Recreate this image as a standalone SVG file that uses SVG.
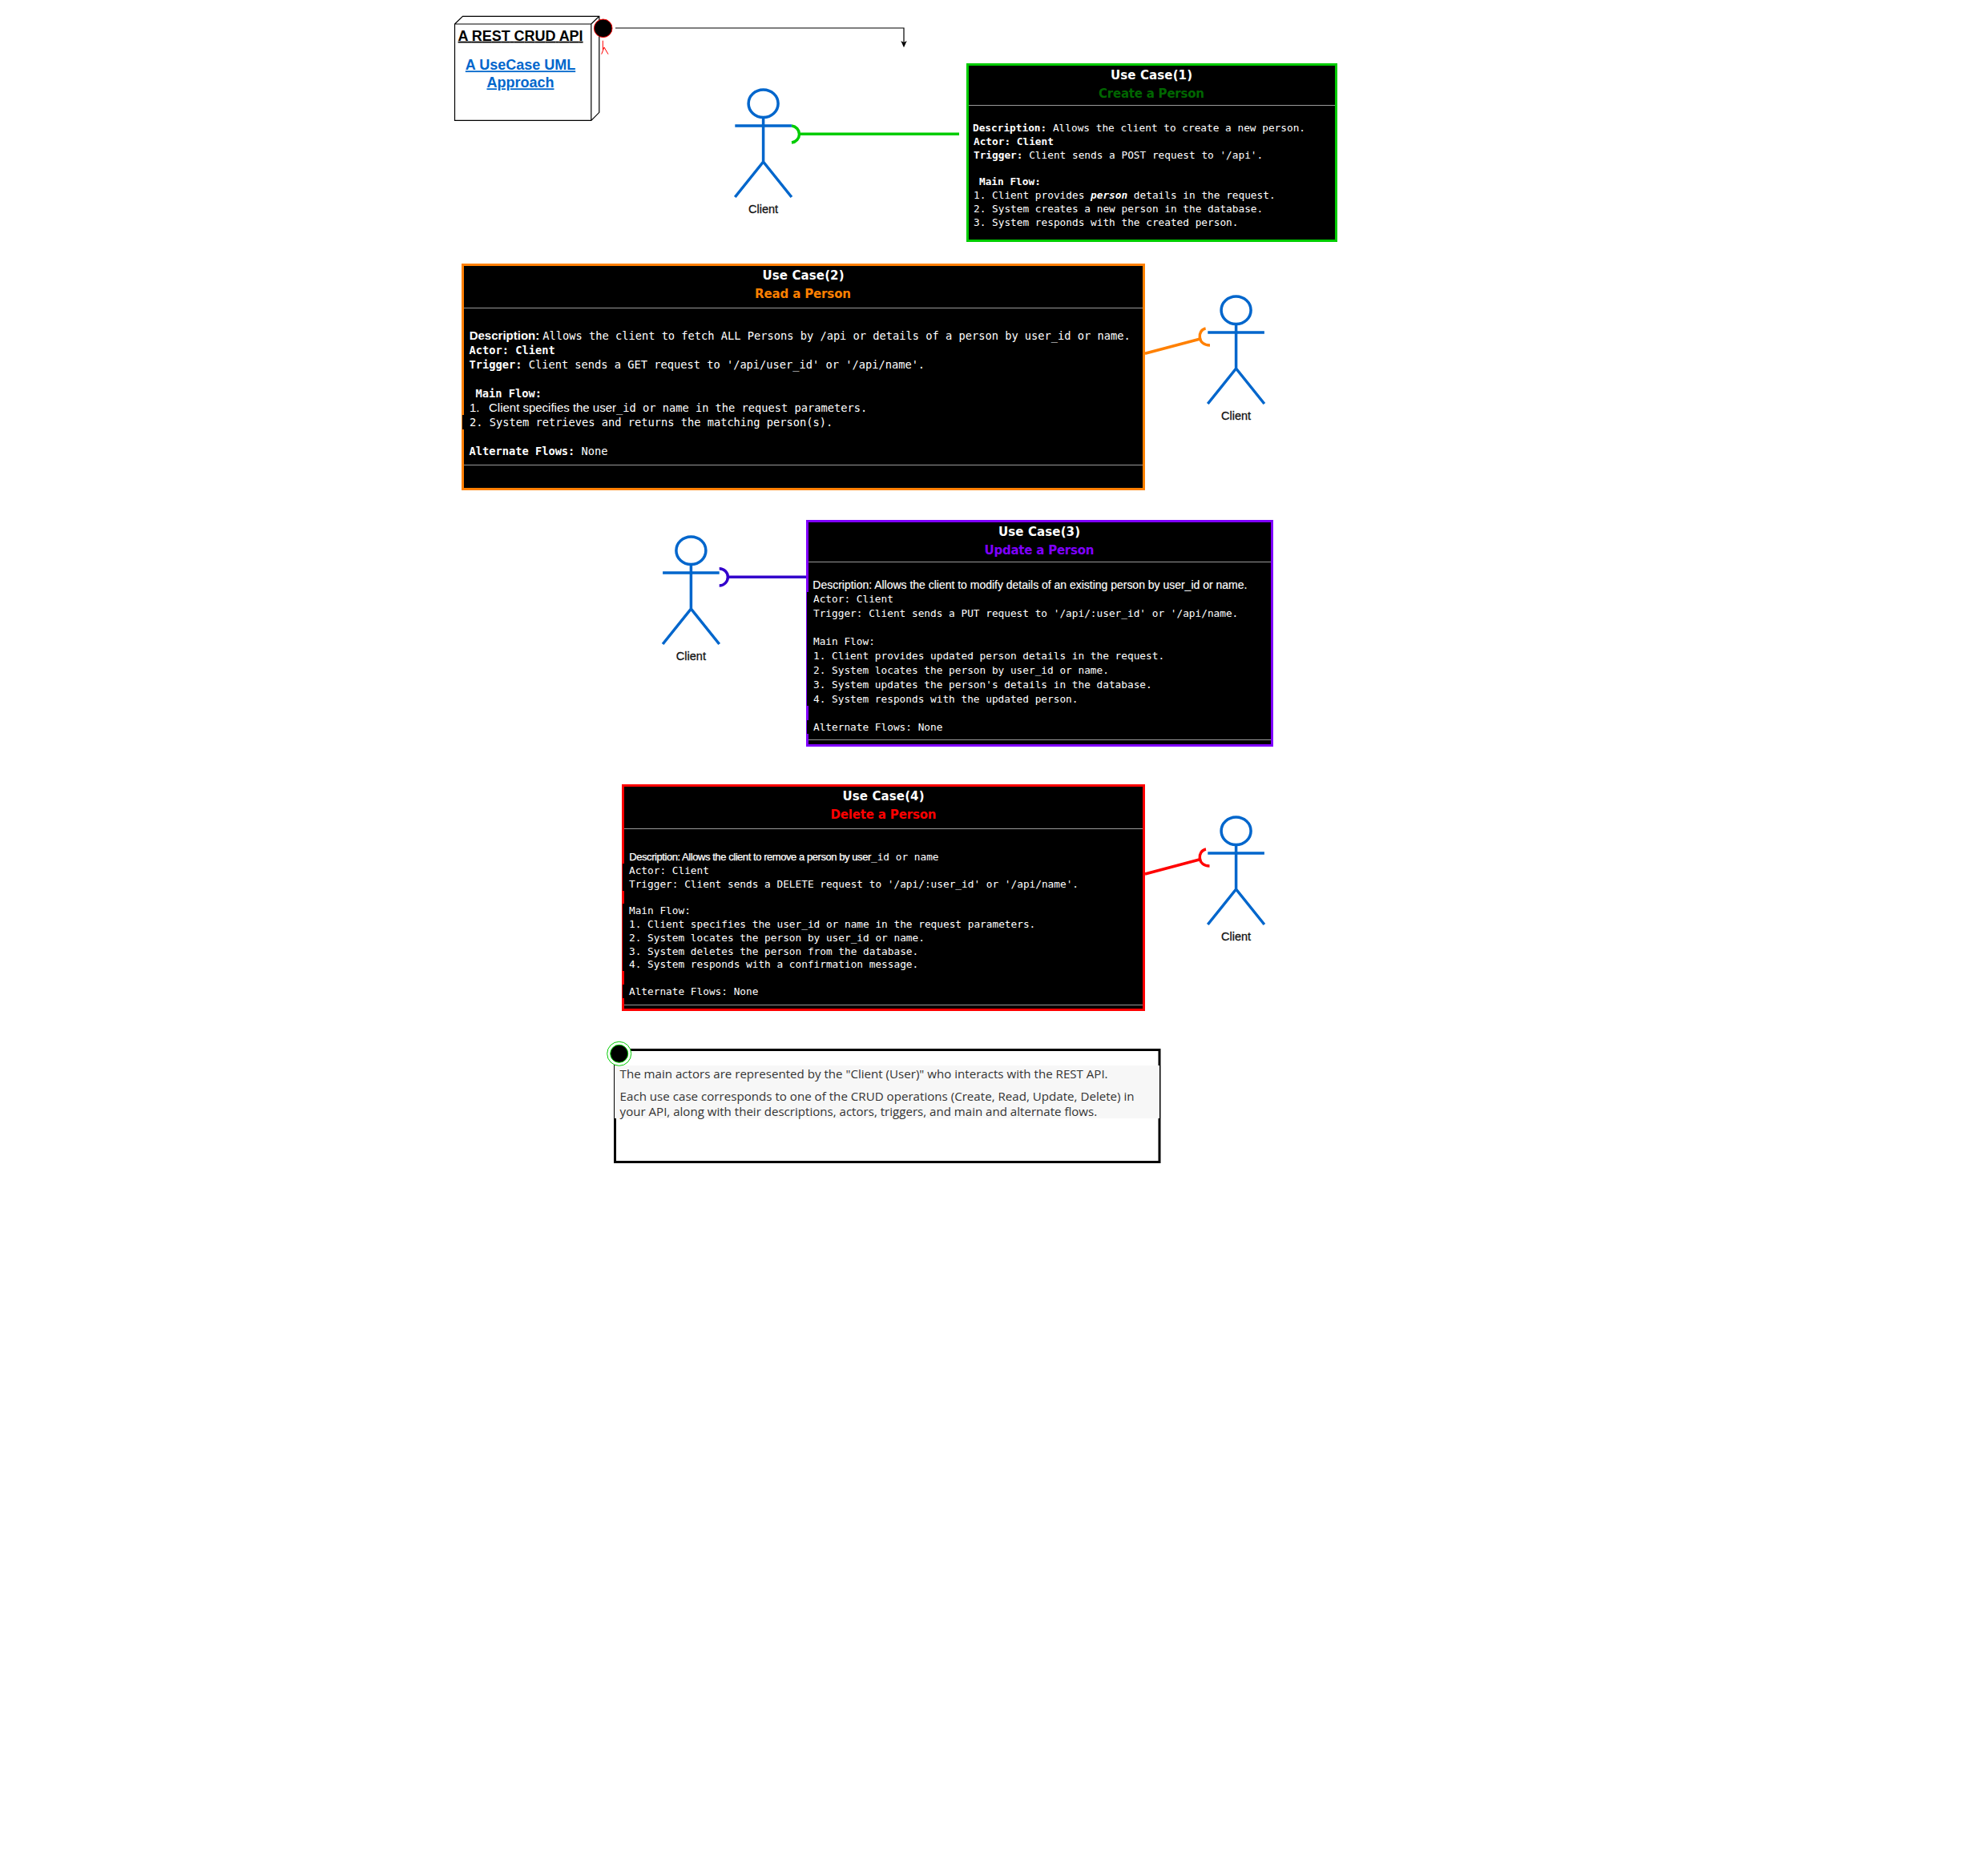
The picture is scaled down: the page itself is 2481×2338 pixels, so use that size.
<svg xmlns="http://www.w3.org/2000/svg" width="2481" height="2338" viewBox="0 0 2481 2338">
<style>
text{white-space:pre}
.bg{fill:#fff}
.card{fill:#000;stroke-width:3}
.sep{stroke:#999;stroke-width:1;fill:none}
.title{font-family:"DejaVu Sans",sans-serif;font-weight:700;font-size:15px;text-anchor:middle;fill:#fff}
.sub{font-family:"DejaVu Sans",sans-serif;font-weight:700;font-size:15px;text-anchor:middle}
.m{font-family:"DejaVu Sans Mono",monospace;font-size:12.78px;fill:#fff}
.ml{font-family:"DejaVu Sans Mono",monospace;font-size:13.7px;fill:#fff}
.a{font-family:"Liberation Sans",Arial,sans-serif}
.b{font-weight:700}
.lbl{font-family:"Liberation Sans",Arial,sans-serif;font-size:14.5px;text-anchor:middle;fill:#111;stroke:#111;stroke-width:.3}
.limb{fill:none;stroke:#0066cc;stroke-width:3.5}
.conn{fill:none;stroke-width:3.5}
.nodehead{font-family:"Liberation Sans",Arial,sans-serif;font-size:18px;font-weight:700;text-decoration:underline;fill:#000}
.link{font-family:"Liberation Sans",Arial,sans-serif;font-size:18px;font-weight:700;text-decoration:underline;fill:#0066cc;text-anchor:middle}
.note{font-family:"Open Sans","Noto Sans",sans-serif;font-size:15px;fill:#333}
</style>
<defs>
<marker id="arrow" markerUnits="userSpaceOnUse" markerWidth="10" markerHeight="10" refX="2" refY="3.7" orient="auto"><path d="M0 0L8.3 3.7L0 7.4L2 3.7Z" fill="#000"/></marker>
<g id="actor"><ellipse class="limb" cx="0" cy="17.3" rx="18.5" ry="17.3"/><path class="limb" d="M0 34.6V90M-35.3 45H35.3M-35.3 134L0 90L35.3 134"/></g>
</defs>
<rect class="bg" width="2481" height="2338"/>

<g id="connectors">
<path fill="none" stroke="#000" stroke-width="1.2" d="M768 35H1128V53" marker-end="url(#arrow)"/>
<path fill="none" stroke="#ff0000" stroke-width="1" d="M752.3 50.7V62M750.7 67.7L754 59L759 67.7"/>
<path class="conn" stroke="#00cc00" d="M988 157A11 10.6 0 0 1 988 178M999 167.3H1197"/>
<path class="conn" stroke="#ff8000" d="M1504.6 410C1494 412 1494 431 1510 431M1429 441.3L1497 423.3"/>
<path class="conn" stroke="#3300cc" d="M897.7 709.7A10.6 10.6 0 0 1 897.7 731M908.3 720.3H1008"/>
<path class="conn" stroke="#ff0000" d="M1505 1060C1494 1062 1494 1081 1509.5 1081M1429 1091L1496.7 1073"/>
</g>

<g id="node-api">
<path fill="#fff" stroke="#000" stroke-width="1.2" d="M567.5 30L577.5 20.3H747.8V140.3L737.8 150.3H567.5ZM567.5 30H737.8V150.3M737.8 30L747.8 20.3"/>
<text class="nodehead" x="571.6" y="50.7" textLength="156">A REST CRUD API</text>
<text class="link" x="649.5" y="87.3">A UseCase UML</text>
<text class="link" x="649.5" y="109.3">Approach</text>
<ellipse cx="752.7" cy="35.3" rx="11.3" ry="11.3" fill="#000" stroke="#ff0000" stroke-width="1"/>
</g>

<g id="actor-1"><use href="#actor" x="952.6" y="112"/><text class="lbl" x="952.6" y="265.7">Client</text></g>
<g id="actor-2"><use href="#actor" x="1542.6" y="370"/><text class="lbl" x="1542.6" y="523.7">Client</text></g>
<g id="actor-3"><use href="#actor" x="862.4" y="670"/><text class="lbl" x="862.4" y="823.7">Client</text></g>
<g id="actor-4"><use href="#actor" x="1542.6" y="1020"/><text class="lbl" x="1542.6" y="1173.7">Client</text></g>

<g id="usecase-1">
<rect class="card" stroke="#00cc00" x="1207.5" y="80.5" width="460" height="220"/>
<path class="sep" d="M1209 131.5H1666"/>
<text class="title" x="1437" y="99.3" textLength="102">Use Case(1)</text>
<text class="sub" fill="#006600" x="1437" y="121.7" textLength="132">Create a Person</text>
<text class="m" x="1214" y="164.3"><tspan class="b">Description:</tspan> Allows the client to create a new person.</text>
<text class="m b" x="1215" y="181">Actor: Client</text>
<text class="m" x="1215" y="198"><tspan class="b">Trigger:</tspan> Client sends a POST request to '/api'.</text>
<text class="m b" x="1222" y="231">Main Flow:</text>
<text class="m" x="1215" y="248">1. Client provides <tspan class="b" font-style="italic">person</tspan> details in the request.</text>
<text class="m" x="1215" y="265">2. System creates a new person in the database.</text>
<text class="m" x="1215" y="282">3. System responds with the created person.</text>
</g>

<g id="usecase-2">
<rect class="card" stroke="#ff8000" x="577.5" y="330.5" width="850" height="280"/>
<rect x="577" y="518" width="2" height="18" fill="#000"/>
<path class="sep" d="M579 384.5H1426M579 580.5H1426"/>
<text class="title" x="1002.5" y="349.3" textLength="102">Use Case(2)</text>
<text class="sub" fill="#ff8000" x="1002" y="372.3" textLength="120">Read a Person</text>
<text class="a b" font-size="15" fill="#fff" x="585.7" y="424">Description:</text>
<text class="ml" x="677.3" y="424">Allows the client to fetch ALL Persons by /api or details of a person by user_id or name.</text>
<text class="ml b" x="585.5" y="442">Actor: Client</text>
<text class="ml" x="585.5" y="460"><tspan class="b">Trigger:</tspan> Client sends a GET request to '/api/user_id' or '/api/name'.</text>
<text class="ml b" x="593.5" y="496">Main Flow:</text>
<text class="a" font-size="15" fill="#fff" x="586" y="514">1.</text>
<text class="a" font-size="15" fill="#fff" x="610" y="514" textLength="159">Client specifies the user</text>
<text class="ml" x="769" y="514">_id or name in the request parameters.</text>
<text class="ml" x="586" y="532">2. System retrieves and returns the matching person(s).</text>
<text class="ml" x="585.5" y="568"><tspan class="b">Alternate Flows:</tspan> None</text>
</g>

<g id="usecase-3">
<rect class="card" stroke="#7f00ff" x="1007.5" y="650.5" width="580" height="280"/>
<rect x="1007" y="739" width="2" height="142" fill="#000"/>
<rect x="1007" y="899" width="2" height="17" fill="#000"/>
<path class="sep" d="M1009 701.5H1586M1009 923.5H1586"/>
<text class="title" x="1297" y="669.3" textLength="102">Use Case(3)</text>
<text class="sub" fill="#7f00ff" x="1297" y="691.7" textLength="137">Update a Person</text>
<text class="a" font-size="14" fill="#fff" stroke="#fff" stroke-width=".15" x="1014.3" y="735" textLength="542">Description: Allows the client to modify details of an existing person by user_id or name.</text>
<text class="m" x="1015" y="752">Actor: Client</text>
<text class="m" x="1015" y="770">Trigger: Client sends a PUT request to '/api/:user_id' or '/api/name.</text>
<text class="m" x="1015" y="805">Main Flow:</text>
<text class="m" x="1015" y="823">1. Client provides updated person details in the request.</text>
<text class="m" x="1015" y="841">2. System locates the person by user_id or name.</text>
<text class="m" x="1015" y="859">3. System updates the person's details in the database.</text>
<text class="m" x="1015" y="877">4. System responds with the updated person.</text>
<text class="m" x="1015" y="912">Alternate Flows: None</text>
</g>

<g id="usecase-4">
<rect class="card" stroke="#ff0000" x="777.5" y="980.5" width="650" height="280"/>
<rect x="777" y="1078" width="2" height="34" fill="#000"/>
<rect x="777" y="1128" width="2" height="84" fill="#000"/>
<rect x="777" y="1229" width="2" height="17" fill="#000"/>
<path class="sep" d="M779 1034.5H1426M779 1254.5H1426"/>
<text class="title" x="1102.5" y="999.3" textLength="102">Use Case(4)</text>
<text class="sub" fill="#ff0000" x="1102.5" y="1022.3" textLength="132">Delete a Person</text>
<text class="a" font-size="13" fill="#fff" stroke="#fff" stroke-width=".25" x="785.3" y="1074.3" textLength="302">Description: Allows the client to remove a person by user</text>
<text class="m" x="1087" y="1074.3">_id or name</text>
<text class="m" x="785" y="1091">Actor: Client</text>
<text class="m" x="785" y="1108">Trigger: Client sends a DELETE request to '/api/:user_id' or '/api/name'.</text>
<text class="m" x="785" y="1141">Main Flow:</text>
<text class="m" x="785" y="1158">1. Client specifies the user_id or name in the request parameters.</text>
<text class="m" x="785" y="1175">2. System locates the person by user_id or name.</text>
<text class="m" x="785" y="1192">3. System deletes the person from the database.</text>
<text class="m" x="785" y="1208">4. System responds with a confirmation message.</text>
<text class="m" x="785" y="1242">Alternate Flows: None</text>
</g>

<g id="note">
<rect x="767.5" y="1310.5" width="679.5" height="140" fill="#fff" stroke="#000" stroke-width="3"/>
<rect x="767" y="1330" width="680" height="66" fill="#f7f7f7"/>
<text class="note" x="773.6" y="1345.7" textLength="609" lengthAdjust="spacingAndGlyphs">The main actors are represented by the "Client (User)" who interacts with the REST API.</text>
<text class="note" x="773.6" y="1374" textLength="642" lengthAdjust="spacingAndGlyphs">Each use case corresponds to one of the CRUD operations (Create, Read, Update, Delete) in</text>
<text class="note" x="773.6" y="1393" textLength="595.6" lengthAdjust="spacingAndGlyphs">your API, along with their descriptions, actors, triggers, and main and alternate flows.</text>
<circle cx="772.7" cy="1315.3" r="15" fill="#fff" stroke="#00cc00" stroke-width="1"/>
<circle cx="772.7" cy="1315.3" r="11" fill="#000" stroke="#00cc00" stroke-width="1"/>
</g>
</svg>
